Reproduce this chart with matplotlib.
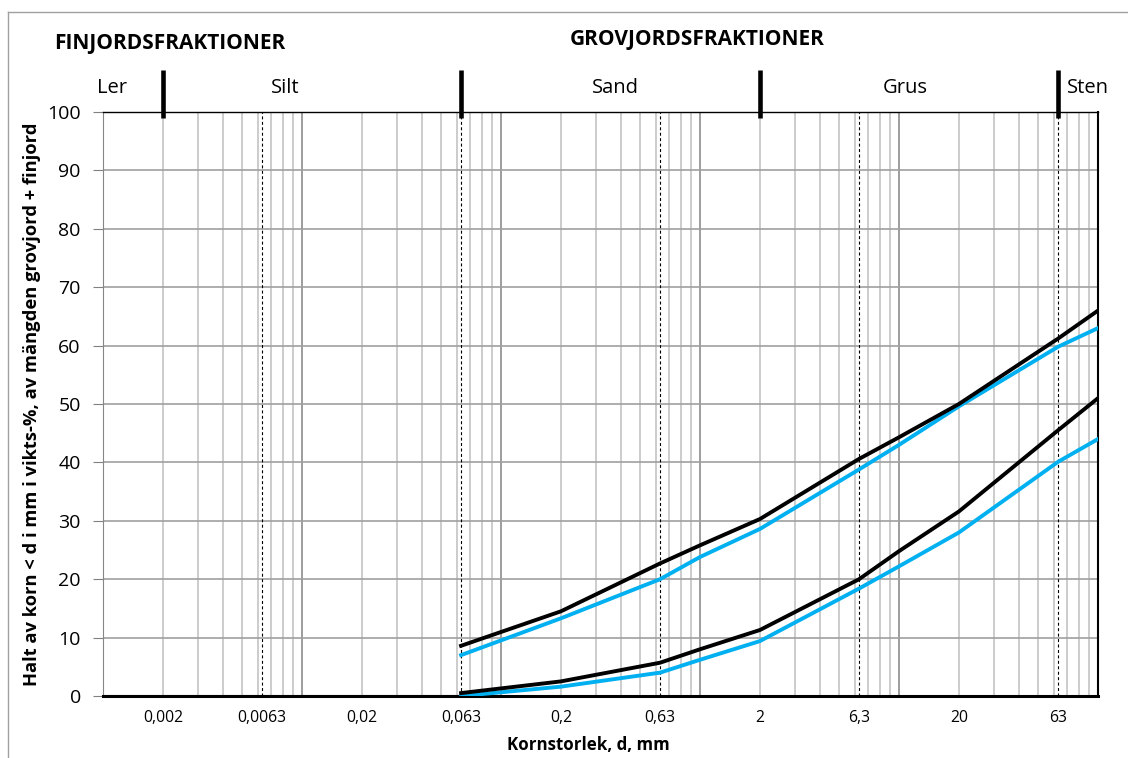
import matplotlib
matplotlib.use("Agg")
import matplotlib.pyplot as plt
from matplotlib.lines import Line2D

plt.rcParams['font.family'] = ['Open Sans', 'DejaVu Sans']

# Kornstorlek (mm) där kurvorna är avlästa
d = [0.063, 0.2, 0.63, 1, 2, 6.3, 10, 20, 63, 100]
ovre_svart = [8.6, 14.5, 22.7, 25.8, 30.3, 40.6, 44.3, 50.0, 61.2, 66.0]
ovre_bla = [7.0, 13.3, 20.0, 23.8, 28.6, 38.8, 43.0, 49.6, 59.8, 63.0]
undre_svart = [0.5, 2.5, 5.7, 8.0, 11.3, 20.0, 24.8, 31.6, 45.5, 51.0]
undre_bla = [0.0, 1.6, 4.0, 6.2, 9.4, 18.4, 22.2, 28.0, 40.1, 44.0]

# Finjordsdelen ligger på noll
d_fin = [0.001, 0.063]
halt_fin = [0, 0]

# Axeltext och fraktionsgränser
tick_varden = [0.002, 0.0063, 0.02, 0.063, 0.2, 0.63, 2, 6.3, 20, 63]
tick_text = ['0,002', '0,0063', '0,02', '0,063', '0,2', '0,63', '2', '6,3', '20', '63']
granser = [0.002, 0.063, 2, 63]
streckade = [0.0063, 0.063, 0.63, 6.3, 63]
fraktioner = ['Ler', 'Silt', 'Sand', 'Grus', 'Sten']
fraktion_x = [0.00111, 0.0082, 0.375, 10.8, 89]

svart = '#000000'
bla = '#00b0f0'

fig = plt.figure(figsize=(11.28, 7.58), dpi=100)
ax = fig.add_axes([103/1128, 1 - 696/758, 995/1128, 584/758])
ax.set_xscale('log')
ax.set_xlim(0.001, 100)
ax.set_ylim(0, 100)
ax.set_axisbelow(True)

# Rutnät
ax.grid(which='major', axis='x', color='#8c8c8c', lw=1.2)
ax.grid(which='minor', axis='x', color='#c4c4c4', lw=1.2)
ax.grid(which='major', axis='y', color='#a0a0a0', lw=1.2)
ax.vlines(streckade, 0, 100, colors='k', linestyles=(0, (2.7, 2.2)), lw=0.8, zorder=1.5)

# Kurvor
ax.plot(d_fin, halt_fin, color=svart, lw=2.2, zorder=3)
ax.plot(d, undre_bla, color=bla, lw=2.8, zorder=3)
ax.plot(d, ovre_bla, color=bla, lw=2.8, zorder=3)
ax.plot(d, undre_svart, color=svart, lw=2.8, zorder=3)
ax.plot(d, ovre_svart, color=svart, lw=2.8, zorder=3)

# Fraktionsgränser ovanför diagrammet
for g in granser:
    ax.plot([g, g], [99, 107.2], color='k', lw=3.3, clip_on=False, solid_capstyle='butt')
for namn, x in zip(fraktioner, fraktion_x):
    ax.text(x, 104.1, namn, ha='center', va='center', fontsize=14.5, clip_on=False)

# X-axelns etiketter
ax.tick_params(axis='x', which='both', length=0, labelbottom=False)
for v, t in zip(tick_varden, tick_text):
    ax.annotate(t, xy=(v, 0), xycoords=('data', 'axes fraction'), xytext=(0, -22),
                textcoords='offset pixels', ha='center', va='center', fontsize=11.3)

ax.set_yticks(range(0, 101, 10))
ax.tick_params(axis='y', length=7, color='#808080', labelsize=14, pad=9)

ax.spines['left'].set_color('#868686')
ax.spines['top'].set_linewidth(1.0)
ax.spines['right'].set_linewidth(1.5)
ax.spines['bottom'].set_linewidth(2.2)

fig.text(54/1128, 1 - 44/758, 'FINJORDSFRAKTIONER', weight='bold', fontsize=15,
         ha='left', va='center')
fig.text(697/1128, 1 - 39/758, 'GROVJORDSFRAKTIONER', weight='bold', fontsize=15,
         ha='center', va='center')
fig.text(32/1128, 1 - 404/758, 'Halt av korn < d i mm i vikts-%, av mängden grovjord + finjord',
         rotation=90, weight='bold', fontsize=13.2, ha='center', va='center')
fig.text(588/1128, 1 - 745/758, 'Kornstorlek, d, mm', weight='bold', fontsize=12.2,
         ha='center', va='center')

# Ram runt figuren
x0 = 7.5/1128
y0 = 1 - 11.5/758
fig.add_artist(Line2D([x0, x0], [0, y0], transform=fig.transFigure, color='#a0a0a0', lw=1))
fig.add_artist(Line2D([x0, 1], [y0, y0], transform=fig.transFigure, color='#a0a0a0', lw=1))

fig.savefig('out.png', dpi=100)
